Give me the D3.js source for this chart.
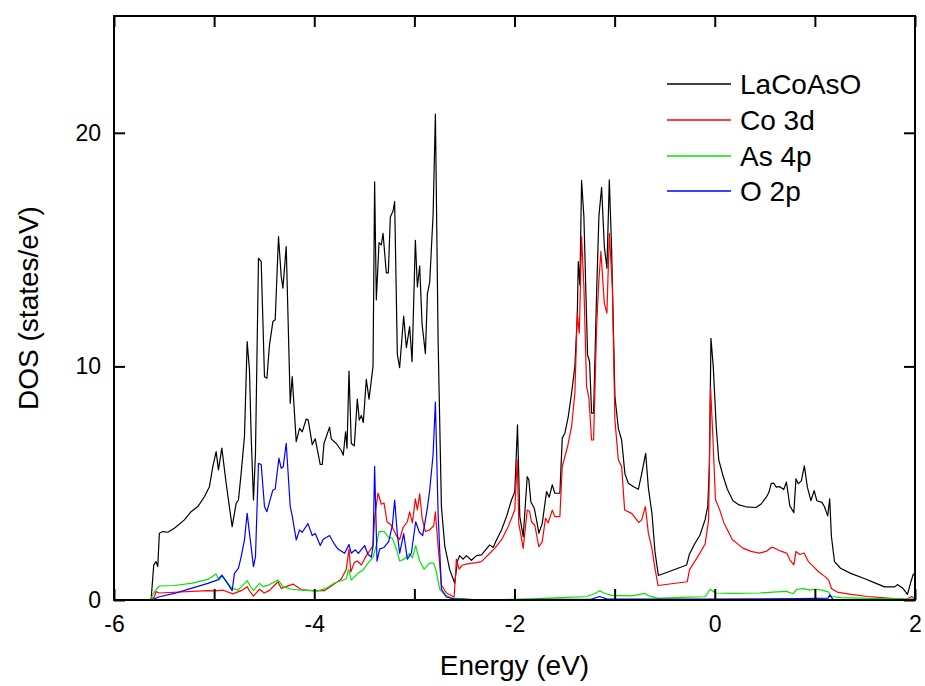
<!DOCTYPE html>
<html>
<head>
<meta charset="utf-8">
<script src="https://cdn.jsdelivr.net/npm/d3@7"></script>
<style>
  body { margin: 0; background: #fff; }
</style>
</head>
<body>
<div id="chart"></div>
<script>
// legend / series
const seriesNames = ["LaCoAsO", "Co 3d", "As 4p", "O 2p"]
const seriesColors = ["#000000", "#ff0000", "#00e600", "#0000ff"]

// axis ticks
const energyTicks = [-6, -5, -4, -3, -2, -1, 0, 1, 2]
const energyLabels = [-6, -4, -2, 0, 2]
const dosTicks = [0, 10, 20]

// [energy (eV), DOS (states/eV)]
const totalDos = [[-6,0],[-5.64,0],[-5.63,0],[-5.603,1.5],[-5.58,1.64],[-5.563,1.43],[-5.547,2.86],[-5.513,2.93],[-5.463,2.9],[-5.397,3.07],[-5.297,3.43],[-5.23,3.78],[-5.163,4.0],[-5.097,4.42],[-5.047,4.85],[-5.013,5.71],[-4.98,6.35],[-4.957,5.57],[-4.923,6.5],[-4.88,5.0],[-4.82,3.14],[-4.78,4.14],[-4.757,4.28],[-4.73,5.43],[-4.697,7.0],[-4.67,11.06],[-4.647,9.85],[-4.63,7.0],[-4.607,4.28],[-4.587,6.28],[-4.557,14.63],[-4.53,14.49],[-4.497,9.56],[-4.473,9.49],[-4.447,10.92],[-4.413,11.92],[-4.39,12.0],[-4.357,15.56],[-4.33,13.85],[-4.313,13.35],[-4.28,15.13],[-4.24,8.42],[-4.22,9.56],[-4.18,6.78],[-4.147,7.35],[-4.12,7.2],[-4.08,7.75],[-4.06,7.7],[-4.02,6.65],[-3.99,6.9],[-3.94,5.8],[-3.92,5.8],[-3.903,6.7],[-3.847,7.4],[-3.83,6.9],[-3.78,6.7],[-3.73,6.4],[-3.71,6.2],[-3.687,7.2],[-3.673,6.5],[-3.653,9.8],[-3.63,6.7],[-3.6,6.6],[-3.57,8.6],[-3.55,7.7],[-3.53,7.9],[-3.51,7.6],[-3.48,9.45],[-3.453,8.6],[-3.413,10.0],[-3.397,17.9],[-3.38,12.85],[-3.353,15.3],[-3.33,15.2],[-3.313,15.7],[-3.28,14.0],[-3.26,14.0],[-3.24,16.4],[-3.213,16.65],[-3.197,17.06],[-3.17,10.5],[-3.147,9.95],[-3.107,12.15],[-3.08,10.8],[-3.047,11.7],[-3.023,10.2],[-2.99,15.4],[-2.97,13.4],[-2.947,14.3],[-2.923,11.8],[-2.89,10.55],[-2.87,13.1],[-2.847,13.6],[-2.813,16.5],[-2.79,20.8],[-2.763,11.1],[-2.73,4.0],[-2.697,2.33],[-2.647,1.3],[-2.597,0.72],[-2.57,1.67],[-2.547,1.9],[-2.513,1.75],[-2.48,1.9],[-2.43,1.7],[-2.38,1.9],[-2.33,1.93],[-2.247,2.36],[-2.213,2.25],[-2.18,2.57],[-2.13,3.0],[-2.08,3.57],[-2.03,4.28],[-1.997,4.64],[-1.97,7.5],[-1.947,3.57],[-1.913,2.71],[-1.873,5.28],[-1.857,5.15],[-1.837,4.21],[-1.803,3.93],[-1.78,3.43],[-1.757,2.86],[-1.723,3.28],[-1.68,4.64],[-1.653,4.4],[-1.623,4.93],[-1.597,4.57],[-1.547,4.57],[-1.523,6.93],[-1.497,7.14],[-1.463,7.85],[-1.43,8.85],[-1.397,10.0],[-1.373,12.13],[-1.363,14.49],[-1.347,13.49],[-1.33,17.96],[-1.307,16.42],[-1.287,13.14],[-1.27,10.49],[-1.25,10.2],[-1.23,8.0],[-1.21,8.0],[-1.18,13.14],[-1.157,16.42],[-1.13,17.67],[-1.103,15.13],[-1.077,14.2],[-1.053,17.99],[-1.03,15.0],[-0.997,8.71],[-0.963,7.35],[-0.93,6.85],[-0.897,5.4],[-0.863,5.0],[-0.81,4.85],[-0.763,4.74],[-0.73,5.4],[-0.69,6.28],[-0.663,4.8],[-0.627,3.7],[-0.597,2.07],[-0.563,1.05],[-0.28,1.5],[-0.253,1.96],[-0.197,2.43],[-0.147,2.78],[-0.097,3.43],[-0.07,4.0],[-0.053,5.8],[-0.038,11.2],[-0.015,10.0],[0.015,7.4],[0.04,6.0],[0.081,5.34],[0.125,4.75],[0.182,4.25],[0.243,4.07],[0.311,3.99],[0.412,3.96],[0.463,4.11],[0.513,4.39],[0.54,4.6],[0.564,4.98],[0.588,5.0],[0.615,4.83],[0.65,4.85],[0.689,4.73],[0.716,5.05],[0.75,4.03],[0.79,3.74],[0.811,5.19],[0.834,4.98],[0.865,5.1],[0.895,5.74],[0.925,4.83],[0.96,4.25],[0.993,4.68],[1.02,4.25],[1.07,4.18],[1.095,4.0],[1.128,3.6],[1.148,4.33],[1.165,2.73],[1.196,1.64],[1.256,1.36],[1.358,1.14],[1.493,0.92],[1.611,0.71],[1.696,0.56],[1.797,0.56],[1.824,0.66],[1.881,0.49],[1.925,0.24],[1.959,0.78],[1.983,1.11],[2.0,1.05]]

const co3d = [[-6,0],[-5.64,0],[-5.597,0.13],[-5.58,0.36],[-5.547,0.3],[-5.063,0.4],[-4.997,0.39],[-4.91,0.42],[-4.813,0.26],[-4.73,0.4],[-4.67,0.57],[-4.64,0.35],[-4.607,0.17],[-4.547,0.46],[-4.5,0.3],[-4.45,0.4],[-4.363,0.78],[-4.33,0.5],[-4.213,0.68],[-4.13,0.45],[-4.0,0.39],[-3.9,0.4],[-3.8,0.68],[-3.73,0.9],[-3.68,1.32],[-3.653,2.18],[-3.635,1.2],[-3.6,1.6],[-3.57,1.67],[-3.53,1.5],[-3.48,1.9],[-3.447,2.1],[-3.413,2.33],[-3.397,3.52],[-3.363,4.58],[-3.33,4.1],[-3.303,4.15],[-3.273,3.35],[-3.23,3.2],[-3.18,2.76],[-3.147,2.59],[-3.113,3.1],[-3.07,3.35],[-3.047,3.77],[-3.02,3.3],[-2.99,4.33],[-2.97,3.86],[-2.947,4.54],[-2.923,3.52],[-2.89,2.93],[-2.847,3.0],[-2.807,3.18],[-2.79,3.77],[-2.77,2.68],[-2.73,0.64],[-2.68,0.3],[-2.603,0.13],[-2.58,1.75],[-2.553,1.32],[-2.52,1.5],[-2.47,1.55],[-2.38,1.6],[-2.33,1.64],[-2.247,2.0],[-2.2,2.2],[-2.13,2.57],[-2.063,3.14],[-1.997,3.85],[-1.973,6.0],[-1.957,3.28],[-1.913,2.21],[-1.873,3.85],[-1.85,3.8],[-1.83,3.35],[-1.797,3.2],[-1.757,2.28],[-1.723,2.5],[-1.69,3.5],[-1.663,3.3],[-1.623,3.85],[-1.597,3.57],[-1.547,3.57],[-1.523,5.71],[-1.47,6.57],[-1.43,7.43],[-1.397,8.85],[-1.373,12.28],[-1.353,11.42],[-1.33,15.56],[-1.307,13.42],[-1.28,9.14],[-1.257,8.64],[-1.23,6.85],[-1.21,6.85],[-1.18,11.7],[-1.157,13.7],[-1.137,14.92],[-1.103,12.7],[-1.077,12.28],[-1.053,15.7],[-1.023,13.42],[-0.997,7.7],[-0.963,6.0],[-0.93,5.71],[-0.9,3.85],[-0.83,3.71],[-0.76,3.32],[-0.73,3.43],[-0.693,4.0],[-0.663,2.86],[-0.627,2.2],[-0.6,1.43],[-0.567,0.62],[-0.275,0.78],[-0.252,1.3],[-0.163,1.9],[-0.096,2.4],[-0.062,3.4],[-0.042,9.1],[-0.018,6.9],[0.007,4.3],[0.047,3.89],[0.091,3.31],[0.175,2.59],[0.277,2.23],[0.361,2.08],[0.446,2.01],[0.513,2.08],[0.564,2.25],[0.59,2.24],[0.648,2.11],[0.69,2.05],[0.72,2.0],[0.75,1.72],[0.79,1.5],[0.811,2.08],[0.85,1.95],[0.892,2.01],[0.936,1.64],[0.986,1.43],[1.037,1.21],[1.104,0.99],[1.138,0.85],[1.165,0.49],[1.223,0.34],[1.358,0.24],[1.527,0.15],[1.797,0.06],[1.87,0.05],[1.91,0.02],[1.966,0.15],[2.0,0.03]]

const as4p = [[-6,0],[-5.64,0],[-5.603,0.3],[-5.58,0.45],[-5.547,0.6],[-5.4,0.62],[-5.23,0.71],[-5.063,0.88],[-4.98,1.11],[-4.95,0.85],[-4.923,1.03],[-4.88,0.78],[-4.82,0.5],[-4.76,0.42],[-4.67,0.83],[-4.64,0.6],[-4.607,0.4],[-4.547,0.71],[-4.513,0.57],[-4.45,0.65],[-4.363,0.86],[-4.313,0.57],[-4.23,0.46],[-4.13,0.42],[-3.963,0.39],[-3.88,0.5],[-3.797,0.73],[-3.68,0.9],[-3.657,1.32],[-3.63,0.85],[-3.563,1.15],[-3.51,1.3],[-3.463,1.58],[-3.413,1.84],[-3.38,2.33],[-3.353,2.93],[-3.303,2.93],[-3.257,2.68],[-3.22,2.65],[-3.18,2.18],[-3.147,1.67],[-3.1,1.75],[-3.047,2.0],[-3.02,1.8],[-2.987,2.33],[-2.95,1.7],[-2.903,1.32],[-2.847,1.58],[-2.807,1.58],[-2.787,1.32],[-2.747,0.47],[-2.697,0.22],[-2.63,0.08],[-2.43,0.03],[-2.13,0.02],[-2.0,0.03],[-1.83,0.05],[-1.53,0.1],[-1.28,0.15],[-1.197,0.28],[-1.147,0.4],[-1.11,0.3],[-1.03,0.2],[-0.83,0.18],[-0.697,0.28],[-0.66,0.18],[-0.563,0.07],[-0.28,0.12],[-0.097,0.14],[-0.07,0.3],[-0.045,0.46],[0.007,0.3],[0.17,0.28],[0.446,0.3],[0.58,0.34],[0.716,0.37],[0.783,0.27],[0.817,0.45],[0.885,0.49],[0.95,0.42],[1.0,0.46],[1.07,0.42],[1.138,0.34],[1.162,0.15],[1.256,0.1],[1.57,0.07],[2.0,0.04]]

const o2p = [[-6,0],[-5.63,0],[-5.547,0.14],[-5.397,0.28],[-5.23,0.5],[-5.063,0.71],[-4.963,0.86],[-4.923,1.07],[-4.88,0.81],[-4.82,0.4],[-4.797,1.14],[-4.757,1.36],[-4.73,1.85],[-4.697,2.57],[-4.67,3.71],[-4.647,2.86],[-4.607,1.43],[-4.587,1.85],[-4.557,5.85],[-4.53,5.8],[-4.497,4.0],[-4.473,3.78],[-4.447,4.2],[-4.413,4.71],[-4.39,4.75],[-4.353,6.07],[-4.33,5.64],[-4.31,5.7],[-4.28,6.71],[-4.24,4.0],[-4.22,3.6],[-4.18,2.57],[-4.147,3.0],[-4.12,2.9],[-4.063,3.27],[-4.02,2.76],[-3.99,2.85],[-3.94,2.33],[-3.91,2.6],[-3.847,2.76],[-3.8,2.4],[-3.763,2.18],[-3.697,2.0],[-3.653,2.37],[-3.63,2.0],[-3.59,2.15],[-3.56,2.0],[-3.497,2.33],[-3.463,1.95],[-3.43,1.84],[-3.413,2.3],[-3.397,5.72],[-3.373,1.66],[-3.347,2.18],[-3.303,2.25],[-3.257,2.5],[-3.22,3.18],[-3.197,4.28],[-3.17,2.8],[-3.147,2.0],[-3.107,2.84],[-3.07,1.75],[-3.03,2.0],[-2.987,3.35],[-2.95,2.9],[-2.917,2.76],[-2.873,3.86],[-2.847,4.7],[-2.813,6.23],[-2.79,8.47],[-2.763,3.7],[-2.73,0.47],[-2.68,0.13],[-2.6,0.05],[-2.43,0.02],[-2.0,0.02],[-1.23,0.04],[-1.15,0.15],[-1.08,0.05],[-0.13,0.04],[0.87,0.06],[1.13,0.08],[1.15,0.22],[1.18,0.03],[2.0,0.02]]

const seriesData = [totalDos, co3d, as4p, o2p]

const width = 925, height = 686
const margin = { top: 16, right: 10, bottom: 86, left: 114 }

const x = d3.scaleLinear().domain([-6, 2]).range([margin.left, width - margin.right])
const y = d3.scaleLinear().domain([0, 25]).range([height - margin.bottom, margin.top])

const svg = d3.select("#chart").append("svg")
  .attr("width", width)
  .attr("height", height)
  .style("font-family", "Liberation Sans, Arial, sans-serif")

svg.append("clipPath").attr("id", "plot-clip")
  .append("rect")
    .attr("x", x(-6)).attr("y", y(25))
    .attr("width", x(2) - x(-6)).attr("height", y(0) - y(25))

// curves
const line = d3.line()
  .x(d => x(d[0]))
  .y(d => y(d[1]))

const gLines = svg.append("g").attr("clip-path", "url(#plot-clip)")
gLines.selectAll("path")
  .data(seriesData)
  .enter().append("path")
    .attr("fill", "none")
    .attr("stroke", (d, i) => seriesColors[i])
    .attr("stroke-width", 1.2)
    .attr("stroke-linejoin", "round")
    .attr("d", line)

// axes: ticks inside, mirrored on top/right
const tickLen = 11
const xBottom = d3.axisBottom(x).tickValues(energyTicks).tickSizeInner(-tickLen).tickSizeOuter(0)
  .tickFormat(d => energyLabels.includes(d) ? d3.format("")(d).replace("−", "-") : "")
const xTop = d3.axisTop(x).tickValues(energyTicks).tickSizeInner(-tickLen).tickSizeOuter(0).tickFormat("")
const yLeft = d3.axisLeft(y).tickValues(dosTicks).tickSizeInner(-tickLen).tickSizeOuter(0)
const yRight = d3.axisRight(y).tickValues(dosTicks).tickSizeInner(-tickLen).tickSizeOuter(0).tickFormat("")

const styleAxis = g => {
  g.select(".domain").remove()
  g.selectAll(".tick line").attr("stroke", "#000").attr("stroke-width", 2)
  g.selectAll(".tick text").attr("fill", "#000").style("font-size", "23px")
}

svg.append("g").attr("transform", `translate(0,${y(0)})`).call(xBottom).call(styleAxis)
  .selectAll(".tick text").attr("dy", 0).attr("y", 32)
svg.append("g").attr("transform", `translate(0,${y(25)})`).call(xTop).call(styleAxis)
svg.append("g").attr("transform", `translate(${x(-6)},0)`).call(yLeft).call(styleAxis)
  .selectAll(".tick text").attr("x", -13)
svg.append("g").attr("transform", `translate(${x(2)},0)`).call(yRight).call(styleAxis)

// frame
svg.append("rect")
  .attr("x", x(-6)).attr("y", y(25))
  .attr("width", x(2) - x(-6)).attr("height", y(0) - y(25))
  .attr("fill", "none").attr("stroke", "#000").attr("stroke-width", 2)

// axis titles
svg.append("text")
  .attr("x", (x(-6) + x(2)) / 2).attr("y", 675)
  .attr("text-anchor", "middle")
  .style("font-size", "28px")
  .text("Energy (eV)")

svg.append("text")
  .attr("transform", `translate(38,${(y(0) + y(25)) / 2}) rotate(-90)`)
  .attr("text-anchor", "middle")
  .style("font-size", "28px")
  .text("DOS (states/eV)")

// legend
const legend = svg.append("g")
const legendY = [84, 120, 156, 191]
legend.selectAll("line")
  .data(seriesNames)
  .enter().append("line")
    .attr("x1", 667).attr("x2", 731)
    .attr("y1", (d, i) => legendY[i]).attr("y2", (d, i) => legendY[i])
    .attr("stroke", (d, i) => seriesColors[i])
    .attr("stroke-width", 1.4)
legend.selectAll("text")
  .data(seriesNames)
  .enter().append("text")
    .attr("x", 740)
    .attr("y", (d, i) => legendY[i] + 10)
    .style("font-size", "28px")
    .text(d => d)
</script>
</body>
</html>
